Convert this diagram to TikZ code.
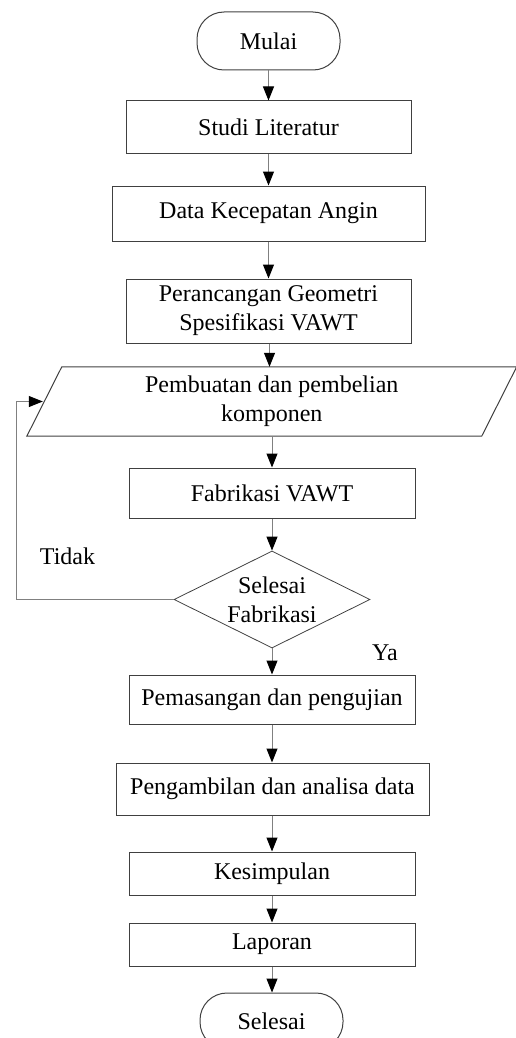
\documentclass[tikz,border=0pt]{standalone}
\usepackage{fontspec}
\setmainfont{Liberation Serif}
\usetikzlibrary{arrows.meta,calc,shapes.geometric}
\begin{document}
\begin{tikzpicture}[x=1pt,y=1pt,
  every node/.style={font=\fontsize{24}{29}\selectfont, align=center, inner sep=0pt},
  procbox/.style={draw=black!75, line width=1pt, rectangle, minimum height=#1},
  procbox/.default=52,
  termbox/.style={draw=black!75, line width=1pt, rectangle, rounded corners=27pt, minimum width=143, minimum height=56},
  decbox/.style={draw=black!75, line width=0.8pt, diamond, aspect=2, minimum width=196, minimum height=97},
  flow/.style={draw=black!50, line width=1pt, -{Triangle[width=11pt,length=14pt,black]}},
  lbl/.style={font=\fontsize{24}{29}\selectfont}
]
\useasboundingbox (0,0) rectangle (515,-1038);
\node[termbox, minimum height=58] (mulai) at (268.5,-41) {Mulai};
\node[procbox, minimum width=285] (studi) at (268.5,-127) {Studi Literatur};
\node[procbox=55, minimum width=313] (data) at (268.5,-213.5) {Data Kecepatan Angin};
\node[procbox=64, minimum width=285] (peran) at (268.5,-311) {Perancangan Geometri\\Spesifikasi VAWT};
\node[minimum width=454.5, minimum height=69] (par) at (271.75,-401.5) {Pembuatan dan pembelian\\komponen};
\draw[draw=black!75, line width=1pt]
  ([xshift=17.5]par.north west) -- ([xshift=17.5]par.north east)
  -- ([xshift=-17.5]par.south east) -- ([xshift=-17.5]par.south west) -- cycle;
\node[procbox=50, minimum width=286] (fab) at (272,-493) {Fabrikasi VAWT};
\node[decbox] (dec) at (272,-599.5) {Selesai\\Fabrikasi};
\node[procbox=49, minimum width=286] (pasang) at (272,-699.5) {Pemasangan dan pengujian};
\node[procbox, minimum width=313] (ambil) at (272.5,-789) {Pengambilan dan analisa data};
\node[procbox=43, minimum width=286] (simpul) at (272,-873.5) {Kesimpulan};
\node[procbox=43, minimum width=286] (lapor) at (272,-944.5) {Laporan};
\node[termbox] (selesai) at (271.5,-1021) {Selesai};
\node[lbl] (tidak) at (67.5,-556) {Tidak};
\node[lbl] (ya) at (385,-653) {Ya};
\coordinate (loopx) at (16,0);
\draw[flow] (mulai.south) -- (studi.north);
\draw[flow] (studi.south) -- (data.north);
\draw[flow] (data.south) -- (peran.north);
\draw[flow] ([xshift=1]peran.south) -- ([xshift=1]peran.south |- par.north);
\draw[flow] (fab.north |- par.south) -- (fab.north);
\draw[flow] (fab.south) -- (dec.north);
\draw[flow] (dec.south) -- (pasang.north);
\draw[flow] (pasang.south) -- (ambil.north -| pasang.south);
\draw[flow] (ambil.south -| simpul.north) -- (simpul.north);
\draw[flow] (simpul.south) -- (lapor.north);
\draw[flow] (lapor.south) -- (selesai.north -| lapor.south);
\draw[flow] (dec.west) -- (dec.west -| loopx) -- (loopx |- par.west) -- ([xshift=-1.5]par.west);
\end{tikzpicture}
\end{document}
